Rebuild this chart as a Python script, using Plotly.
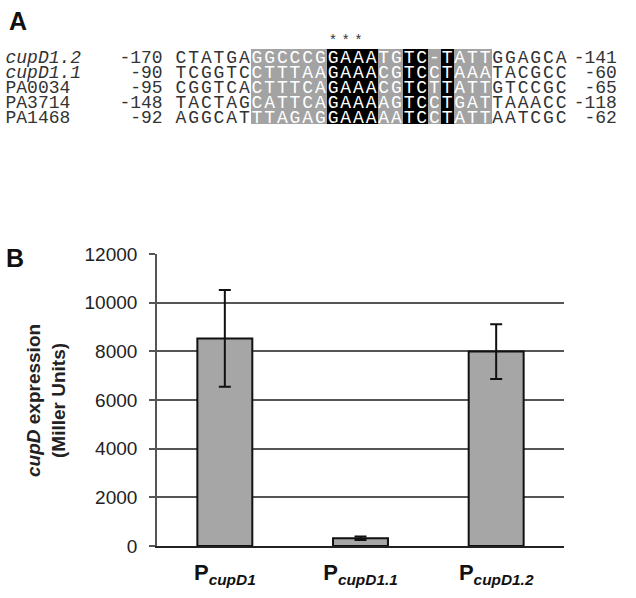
import plotly.graph_objects as go

# ---------------- Panel A data ----------------
row_labels = ["<i>cupD1.2</i>", "<i>cupD1.1</i>", "PA0034", "PA3714", "PA1468"]
left_pos = ["-170", "-90", "-95", "-148", "-92"]
right_pos = ["-141", "-60", "-65", "-118", "-62"]
sequences = [
    "CTATGAGGCCCGGAAATGTC-TATTGGAGCA",
    "TCGGTCCTTTAAGAAACGTCCTAAATACGCC",
    "CGGTCACTTTCAGAAACGTCTTATTGTCCGC",
    "TACTAGCATTCAGAAAAGTCCTGATTAAACC",
    "AGGCATTTAGAGGAAAAATCCTATTAATCGC",
]
# shading per column: '.' none, 'g' grey, 'b' black
shade_pattern = "......ggggggbbbbggbbgbggg......"
star_cols = [12, 13, 14]

# ---------------- Panel B data ----------------
promoters = ["P_cupD1", "P_cupD1.1", "P_cupD1.2"]
promoter_ticks = ["<b>P<sub><i>cupD1</i></sub></b>",
                  "<b>P<sub><i>cupD1.1</i></sub></b>",
                  "<b>P<sub><i>cupD1.2</i></sub></b>"]
expression = [8530, 320, 7990]
expression_err = [1990, 70, 1125]
y_ticks = [0, 2000, 4000, 6000, 8000, 10000, 12000]

W, H = 636, 598
fig = go.Figure()

# ---- Panel A: shading heatmap ----
code = {".": None, "g": 1, "b": 2}
z = [[code[c] for c in shade_pattern] for _ in sequences]
fig.add_trace(go.Heatmap(
    z=z, x=list(range(len(shade_pattern))), y=list(range(len(sequences))),
    zmin=1, zmax=2, colorscale=[[0, "#a3a3a3"], [1, "#000000"]],
    showscale=False, hoverinfo="skip", xaxis="x2", yaxis="y2"))

plain_x, plain_y, plain_t = [], [], []
sh_x, sh_y, sh_t = [], [], []
for r, seq in enumerate(sequences):
    for i, ch in enumerate(seq):
        if shade_pattern[i] == ".":
            plain_x.append(i); plain_y.append(r + 0.15); plain_t.append(ch)
        else:
            sh_x.append(i); sh_y.append(r + 0.15); sh_t.append(ch)

mono = "Liberation Mono, DejaVu Sans Mono, monospace"
fig.add_trace(go.Scatter(x=plain_x, y=plain_y, text=plain_t, mode="text",
                         textfont=dict(family=mono, size=18, color="#333333"),
                         hoverinfo="skip", xaxis="x2", yaxis="y2"))
fig.add_trace(go.Scatter(x=sh_x, y=sh_y, text=sh_t, mode="text",
                         textfont=dict(family=mono, size=18, color="#ffffff"),
                         hoverinfo="skip", xaxis="x2", yaxis="y2"))
rows_y = [r + 0.15 for r in range(len(sequences))]
fig.add_trace(go.Scatter(x=[-13.85] * len(row_labels), y=rows_y, text=row_labels,
                         mode="text", textposition="middle right",
                         textfont=dict(family=mono, size=18, color="#333333"),
                         hoverinfo="skip", xaxis="x2", yaxis="y2"))
fig.add_trace(go.Scatter(x=[-1.45] * len(left_pos), y=rows_y, text=left_pos,
                         mode="text", textposition="middle left",
                         textfont=dict(family=mono, size=18, color="#333333"),
                         hoverinfo="skip", xaxis="x2", yaxis="y2"))
fig.add_trace(go.Scatter(x=[34.4] * len(right_pos), y=rows_y, text=right_pos,
                         mode="text", textposition="middle left",
                         textfont=dict(family=mono, size=18, color="#333333"),
                         hoverinfo="skip", xaxis="x2", yaxis="y2"))
fig.add_trace(go.Scatter(x=star_cols, y=[-1.0] * len(star_cols), text=["*"] * len(star_cols),
                         mode="text", textfont=dict(family=mono, size=14, color="#333333"),
                         hoverinfo="skip", xaxis="x2", yaxis="y2"))

# ---- Panel B: bars ----
fig.add_trace(go.Bar(
    x=promoters, y=expression,
    marker=dict(color="#a6a6a6", line=dict(color="#111111", width=2)),
    error_y=dict(type="data", array=expression_err, visible=True,
                 color="#111111", thickness=2, width=6),
    hoverinfo="skip", xaxis="x", yaxis="y"))

col_w = 12.67
col0 = 181.0
ypx_row0, row_h = 56.5, 15.0

fig.update_layout(
    width=W, height=H, margin=dict(l=0, r=0, t=0, b=0, autoexpand=False),
    paper_bgcolor="white", plot_bgcolor="rgba(0,0,0,0)",
    showlegend=False, bargap=0.595,
    font=dict(family="Arial, Liberation Sans, sans-serif", color="#222222"),
    xaxis=dict(domain=[157 / W, 564 / W], tickmode="array", tickvals=promoters,
               ticktext=promoter_ticks, tickfont=dict(size=22, color="#111111"),
               showline=True, linecolor="#222222", linewidth=2, ticks="",
               showgrid=False, zeroline=False, fixedrange=True, ticklabelstandoff=6,
               automargin=False),
    yaxis=dict(domain=[1 - 546 / H, 1 - 254 / H], range=[0, 12000],
               tickvals=y_ticks, tickformat="d", tickfont=dict(size=19, color="#222222"),
               showgrid=True, gridcolor="#555555", gridwidth=1.6,
               showline=True, linecolor="#555555", linewidth=1.6,
               ticks="outside", ticklen=6, tickcolor="#555555", tickwidth=1.6,
               zeroline=False, fixedrange=True, ticklabelstandoff=8, automargin=False),
    xaxis2=dict(domain=[0, 1], range=[(0 - col0) / col_w, (W - col0) / col_w],
                visible=False, fixedrange=True, anchor="y2", automargin=False),
    yaxis2=dict(domain=[1 - 200 / H, 1],
                range=[(200 - ypx_row0) / row_h, (0 - ypx_row0) / row_h],
                visible=False, fixedrange=True, anchor="x2", automargin=False),
    annotations=[
        dict(text="<b>A</b>", x=7 / W, y=1 - 21 / H, xref="paper", yref="paper",
             xanchor="left", yanchor="middle", showarrow=False,
             font=dict(size=25, color="#111111")),
        dict(text="<b>B</b>", x=4 / W, y=1 - 258 / H, xref="paper", yref="paper",
             xanchor="left", yanchor="middle", showarrow=False,
             font=dict(size=25, color="#111111")),
        dict(text="<b><i>cupD</i> expression<br>(Miller Units)</b>",
             x=46 / W, y=1 - 401 / H, xref="paper", yref="paper",
             xanchor="center", yanchor="middle", textangle=-90, showarrow=False,
             font=dict(size=19, color="#222222")),
    ],
)

fig.write_html("out.html", config={"displayModeBar": False},
               post_script="document.body.style.margin='0';document.body.style.padding='0';")
